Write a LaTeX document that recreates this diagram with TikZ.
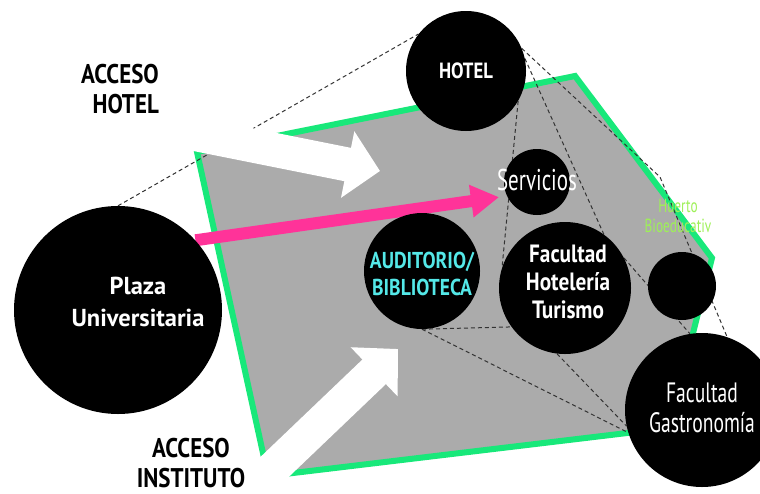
\documentclass[tikz,border=0pt]{standalone}
\usepackage{fontspec}
\setmainfont{PT Sans}
\newfontfamily\wideface{PT Sans}[FakeStretch=0.85]
\newfontfamily\slimface{PT Sans}[FakeStretch=0.7]
\usetikzlibrary{arrows.meta,positioning}
\definecolor{zonegray}{RGB}{171,171,171}
\definecolor{zonegreen}{RGB}{24,232,122}
\definecolor{flowpink}{RGB}{255,51,153}
\definecolor{audcyan}{RGB}{84,232,232}
\definecolor{huertogreen}{RGB}{158,240,88}
\pgfdeclarelayer{back}
\pgfsetlayers{back,main}
\tikzset{
  bubble/.style={circle, fill=black, inner sep=0pt},
  bubbletxt/.style={text=white, align=center, inner sep=0pt, font=\wideface\bfseries\fontsize{25}{28}\selectfont},
  slimtxt/.style={text=white, align=center, inner sep=0pt, font=\slimface\fontsize{28}{30}\selectfont},
  link/.style={black!80, line width=1pt, dash pattern=on 4pt off 3pt},
  access/.style={white, line width=34pt, -{Triangle[length=33pt,width=66pt]}},
  accesstxt/.style={inner sep=0pt, font=\wideface\bfseries\fontsize{27}{30}\selectfont},
}
\begin{document}
\begin{tikzpicture}[x=1pt,y=-1pt]
\useasboundingbox (0,0) rectangle (760,493);

% bubbles
\node[bubble, minimum size=208pt, label={[bubbletxt, xshift=20pt, yshift=8pt, font=\bfseries\fontsize{24.5}{32}\selectfont]center:Plaza\\Universitaria}] (plaza) at (118,310) {};
\node[bubble, minimum size=120pt, label={[bubbletxt, font=\wideface\bfseries\fontsize{22}{24}\selectfont]center:HOTEL}] (hotel) at (466,71) {};
\node[bubble, minimum size=66pt, label={[slimtxt, yshift=2pt, font=\slimface\fontsize{30}{30}\selectfont]center:Servicios}] (servicios) at (537,182) {};
\node[bubble, minimum size=116pt, label={[bubbletxt, text=audcyan, yshift=-3pt, font=\wideface\bfseries\fontsize{23}{27}\selectfont]center:AUDITORIO/\\BIBLIOTECA}] (auditorio) at (422,271) {};
\node[bubble, minimum size=132pt, label={[bubbletxt, xshift=3pt, yshift=6pt]center:Facultad\\Hotelería\\Turismo}] (hoteleria) at (565,288) {};
\node[bubble, minimum size=68pt] (huerto) at (682,286) {};
\node[bubble, minimum size=154pt, label={[slimtxt, yshift=2pt]center:Facultad\\Gastronomía}] (gastro) at (702,410) {};

% textos
\node[accesstxt, align=right, anchor=east] (accesohotel) at (159,89) {ACCESO\\HOTEL};
\node[accesstxt, align=center] (accesoinst) at (191,463) {ACCESO\\INSTITUTO};
\node[text=huertogreen, align=center, inner sep=0pt, font=\slimface\fontsize{19}{20}\selectfont, above=19pt of huerto, xshift=-4pt] (huertolbl) {Huerto\\Bioeducativ};

\coordinate (bend) at (660,177);
\coordinate (hoteltail) at (180,131);
\coordinate (hoteltip) at (380,171);
\coordinate (insttail) at (240,500);
\coordinate (insttip) at (398,349);

\begin{pgfonlayer}{back}
% zona
\filldraw[fill=zonegray, draw=zonegreen, line width=6pt] (197,152) -- (575,76) -- (712,258) -- (669,428) -- (268,476) -- cycle;
% relaciones
\draw[link] (plaza.90) -- (hotel.142);
\draw[link] (hotel.22) -- (bend) -- (gastro.71);
\draw[link] (hotel.12) -- (hoteleria.54);
\draw[link] (hotel.-30) -- (hoteleria.162);
\draw[link] (auditorio.-90) -- (hoteleria.216);
\draw[link] (auditorio.-90) -- (gastro.197);
\draw[link] (hoteleria.-97) -- (gastro.192);
\draw[link] (hoteleria.27) -- (gastro.99);
% accesos
\draw[access] (hoteltail) -- (hoteltip);
\draw[access] (insttail) -- (insttip);
\draw[flowpink, line width=12pt, -{Triangle[length=28pt,width=31pt]}, shorten >=8pt] (plaza.42) -- (servicios.205);
\end{pgfonlayer}
\end{tikzpicture}
\end{document}
